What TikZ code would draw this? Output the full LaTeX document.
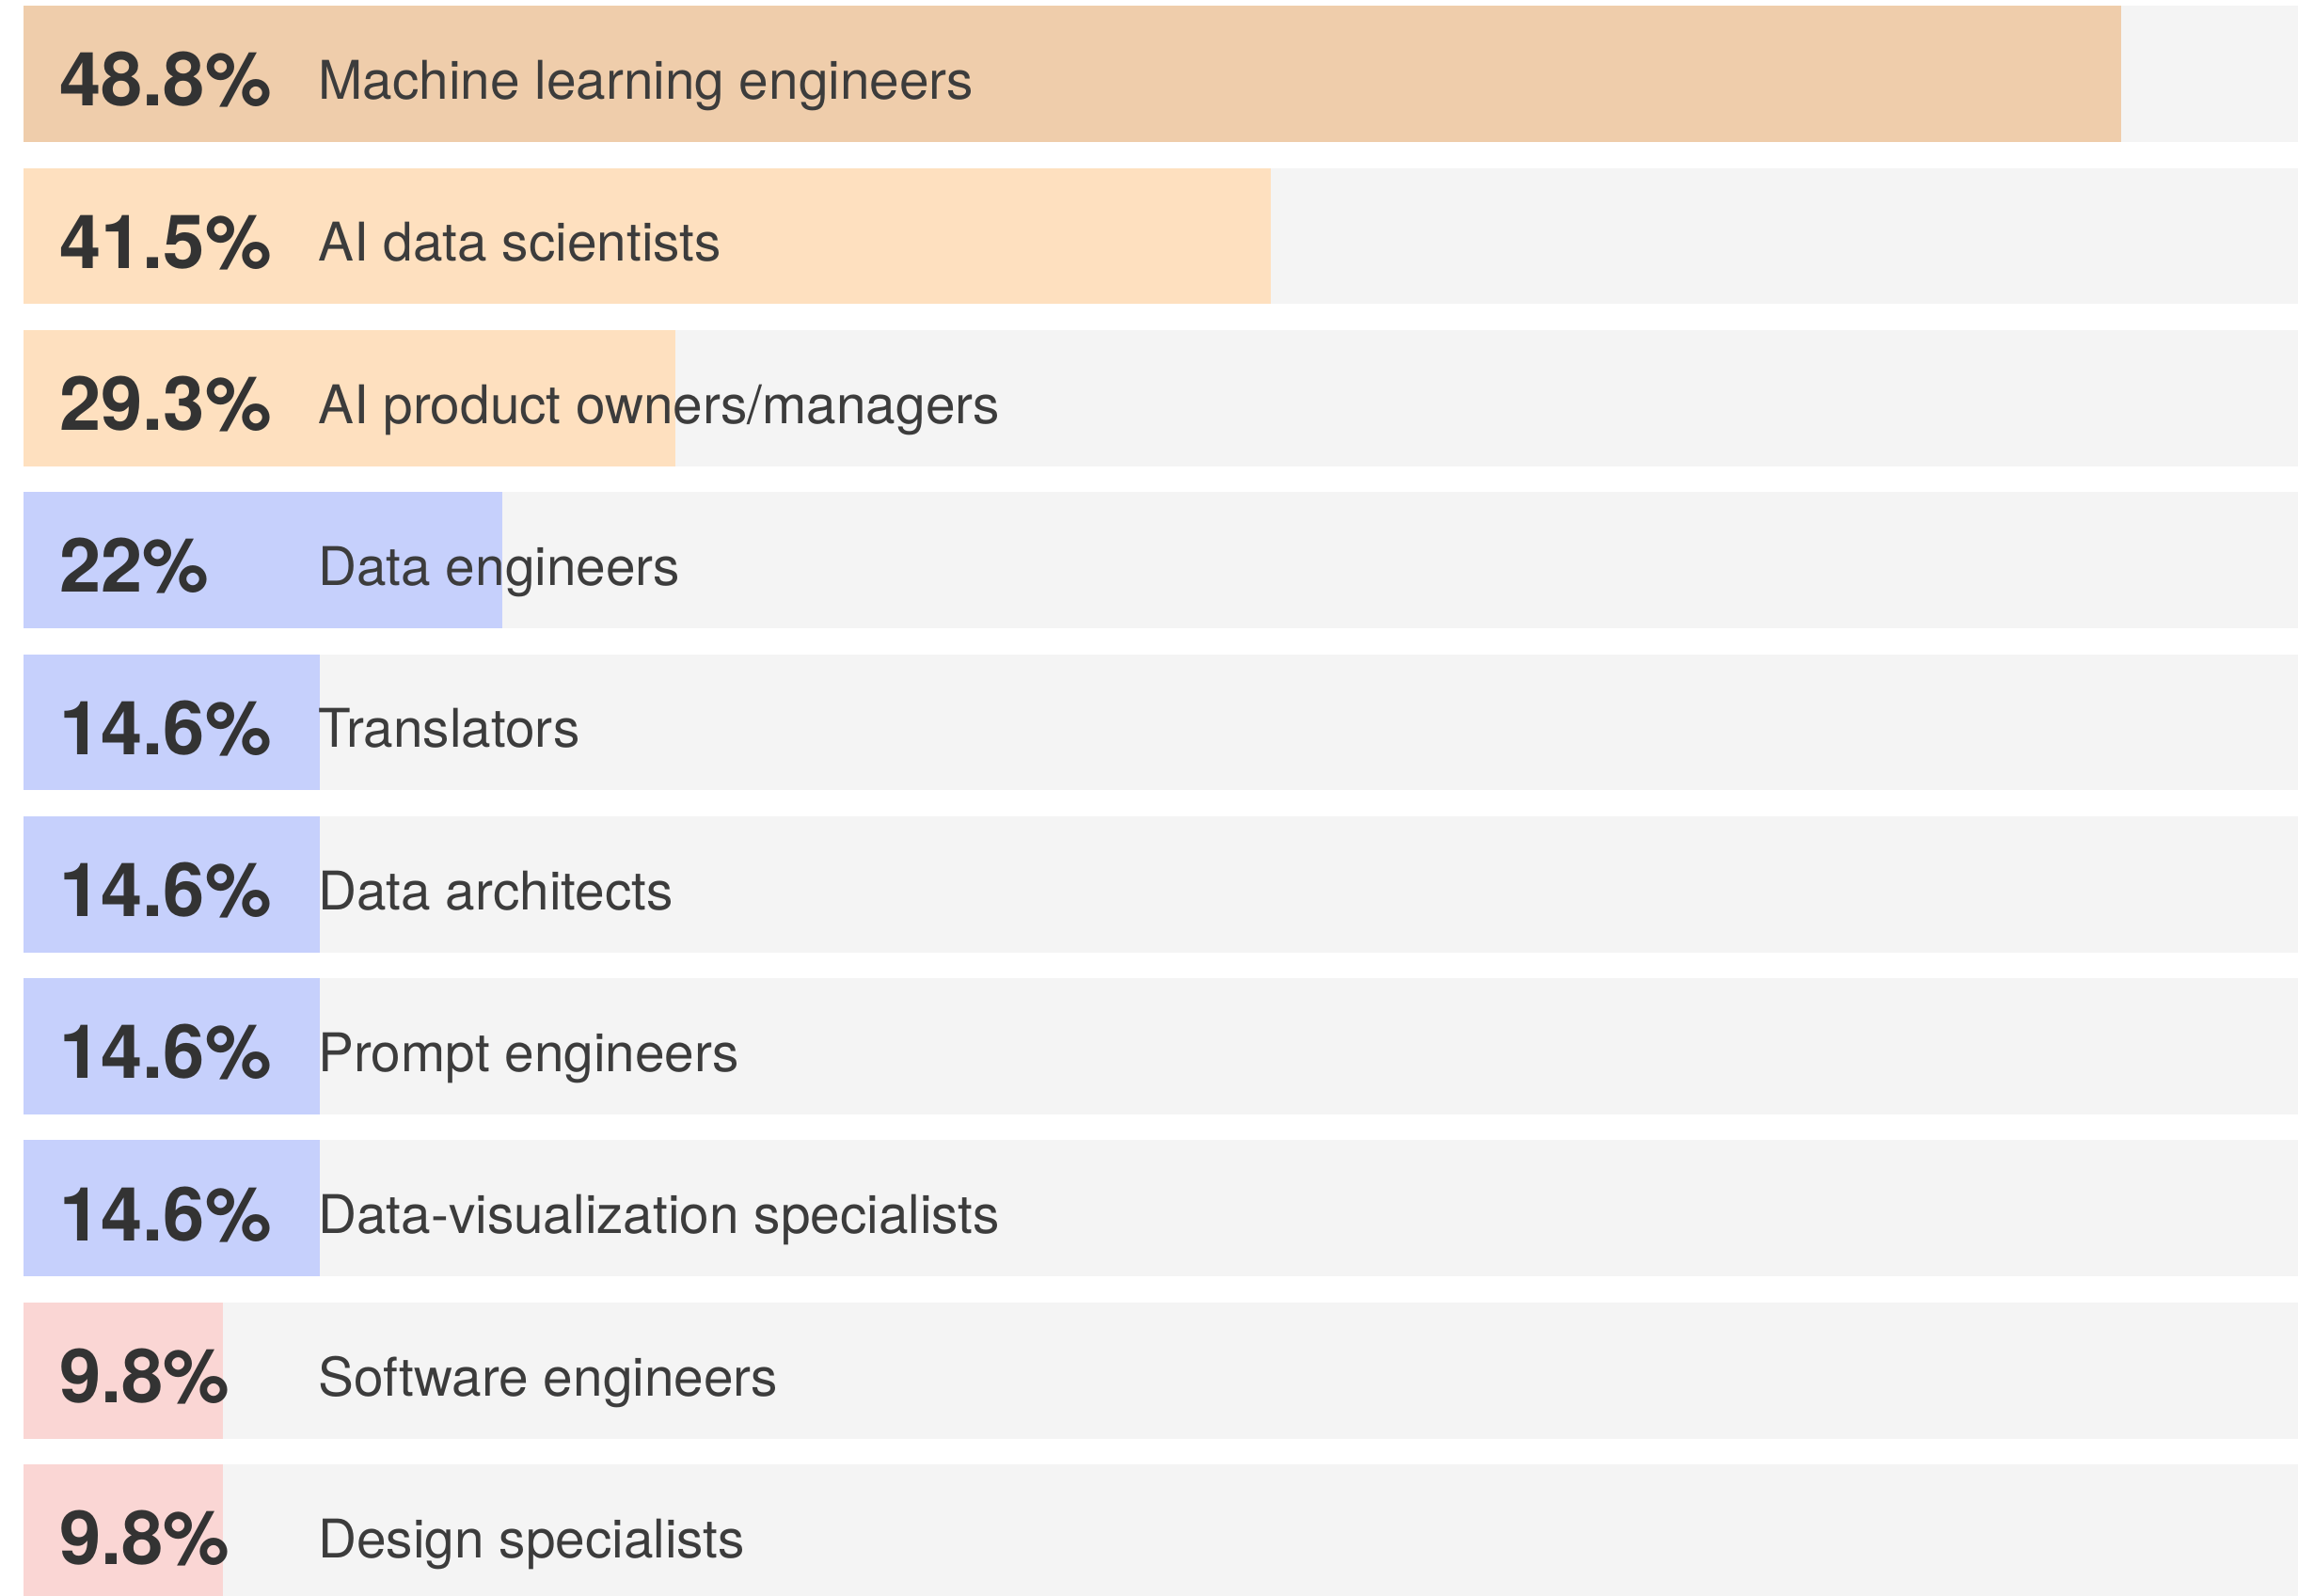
\documentclass[tikz,border=0pt]{standalone}
\usepackage{fontspec}
\setmainfont{TeX Gyre Heros}
\definecolor{bggray}{HTML}{F4F4F4}
\definecolor{tanbar}{HTML}{EFCDAB}
\definecolor{peachbar}{HTML}{FEE0BF}
\definecolor{bluebar}{HTML}{C6D0FC}
\definecolor{pinkbar}{HTML}{FAD6D4}
\definecolor{pcttext}{HTML}{333333}
\definecolor{lbltext}{HTML}{3C3C3C}
\tikzset{
  pct/.style={inner sep=0pt, anchor=base west, text=pcttext, font=\fontsize{51}{51}\selectfont\bfseries},
  lbl/.style={inner sep=0pt, anchor=base west, text=lbltext, font=\fontsize{36.4}{36.4}\selectfont},
}
\begin{document}
\begin{tikzpicture}[x=1pt,y=-1pt]
\useasboundingbox (0,0) rectangle (1568,1089);
\fill[white] (0,0) rectangle (1568,1089);
\foreach \i/\w/\c/\p/\l in {
  0/1447/tanbar/48.8\%/Machine learning engineers,
  1/867/peachbar/41.5\%/AI data scientists,
  2/461/peachbar/29.3\%/AI product owners\slash managers,
  3/343/bluebar/22\%/Data engineers,
  4/218/bluebar/14.6\%/Translators,
  5/218/bluebar/14.6\%/Data architects,
  6/218/bluebar/14.6\%/Prompt engineers,
  7/218/bluebar/14.6\%/Data-visualization specialists,
  8/152/pinkbar/9.8\%/Software engineers,
  9/152/pinkbar/9.8\%/Design specialists}{
  \pgfmathsetmacro\t{4+110.6*\i}
  \fill[bggray] (16,\t) rectangle (1568,\t+93);
  \fill[\c] (16,\t) rectangle (\w,\t+93);
  \node[pct] (p\i) at (40.5,\t+68.5) {\p};
  \node[lbl] (l\i) at (217,\t+63.8) {\l};
}
\end{tikzpicture}
\end{document}
